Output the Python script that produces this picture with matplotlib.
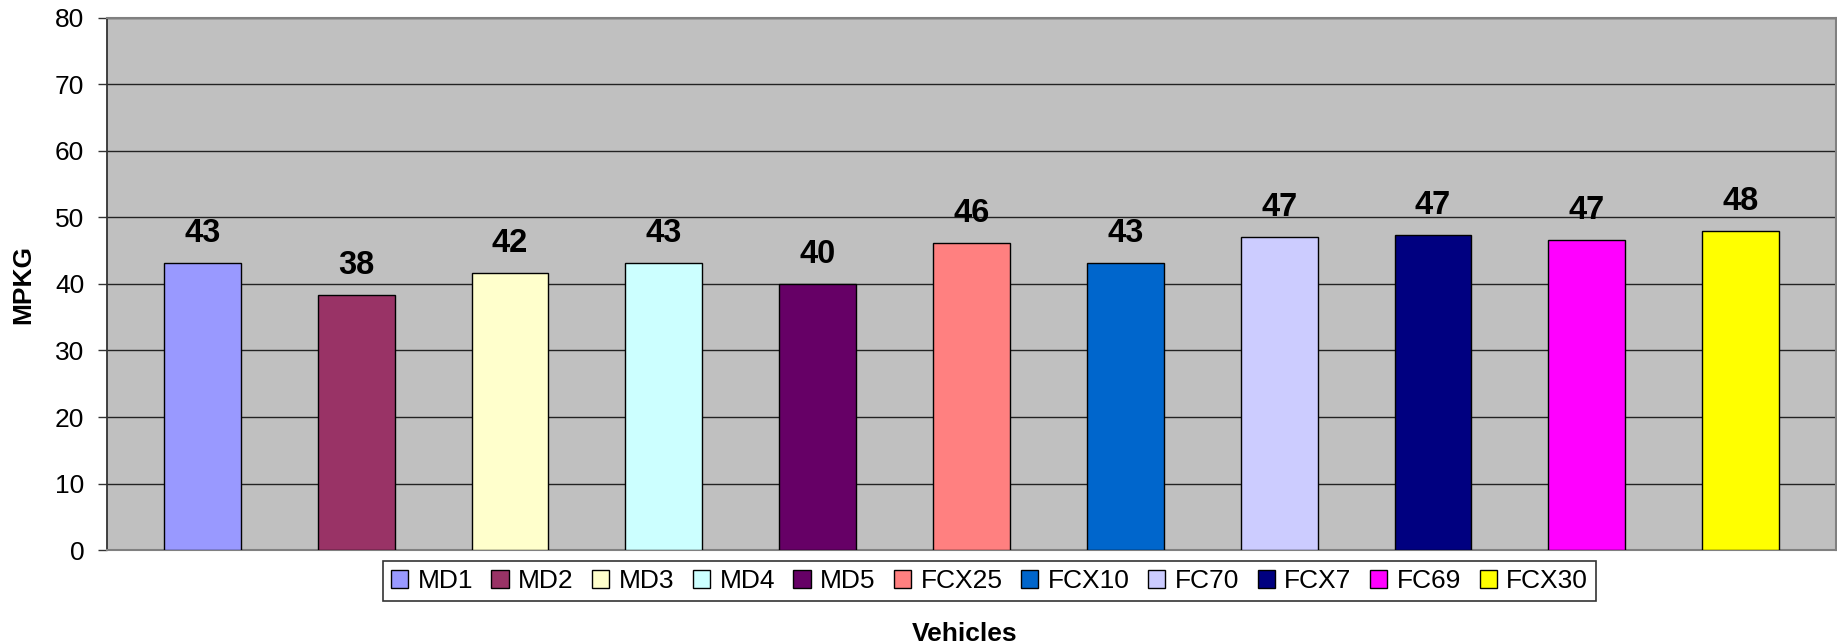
import matplotlib
matplotlib.use("Agg")
import matplotlib.pyplot as plt

vehicles = ["MD1", "MD2", "MD3", "MD4", "MD5", "FCX25", "FCX10", "FC70", "FCX7", "FC69", "FCX30"]
mpkg = [43.1, 38.3, 41.6, 43.1, 40.0, 46.2, 43.1, 47.0, 47.3, 46.6, 47.9]
colors = ["#9999FF", "#993366", "#FFFFCC", "#CCFFFF", "#660066", "#FF8080",
          "#0066CC", "#CCCCFF", "#000080", "#FF00FF", "#FFFF00"]
yticks = [0, 10, 20, 30, 40, 50, 60, 70, 80]

plt.rcParams['font.family'] = ['Liberation Sans', 'DejaVu Sans']

W, H = 1837, 644
fig = plt.figure(figsize=(W / 100, H / 100), dpi=100)
left, right, top, bottom = 107, 1836, 17.5, 550.3
ax = fig.add_axes([left / W, 1 - bottom / H, (right - left) / W, (bottom - top) / H])
ax.set_facecolor("#C0C0C0")

x = list(range(len(vehicles)))
bars = []
for i, (v, val, c) in enumerate(zip(vehicles, mpkg, colors)):
    b = ax.bar(i, val, width=0.5, color=c, edgecolor="black", linewidth=1.0, label=v, zorder=3)
    bars.append(b)
    ax.annotate(f"{round(val):d}", xy=(i, val), xytext=(0, 15), textcoords="offset points",
                ha="center", va="baseline", fontsize=23.5, fontweight="bold", zorder=4)

ax.set_xlim(-0.62, len(vehicles) - 1 + 0.62)
ax.set_ylim(0, 80)
ax.set_yticks(yticks)
ax.set_yticklabels([str(t) for t in yticks], fontsize=19)
ax.set_xticks([])
ax.tick_params(axis="y", direction="out", length=6.3, width=1.0, color="#333333", pad=10)
ax.yaxis.grid(True, color="#222222", linewidth=1.0, zorder=1)
ax.set_axisbelow(True)

ax.spines["left"].set_color("#333333")
ax.spines["left"].set_linewidth(1.3)
for s in ["top", "bottom", "right"]:
    ax.spines[s].set_color("#808080")
    ax.spines[s].set_linewidth(1.5)

fig.text(23 / W, 1 - 284 / H, "MPKG", rotation=90, ha="center", va="center",
         fontsize=19, fontweight="bold")
fig.text(965 / W, 1 - 634 / H, "Vehicles", ha="center", va="center",
         fontsize=19, fontweight="bold")

leg = fig.legend(handles=[b[0] for b in bars], labels=vehicles, loc="center",
                 bbox_to_anchor=(989.5 / W, 1 - 581 / H), ncol=len(vehicles),
                 fontsize=19, frameon=True, fancybox=False, shadow=False,
                 handlelength=0.65, handleheight=0.65, handletextpad=0.36,
                 columnspacing=0.7, borderpad=0.3, borderaxespad=0)
leg.get_frame().set_edgecolor("black")
leg.get_frame().set_linewidth(1.2)

fig.savefig("out.png", dpi=100)
